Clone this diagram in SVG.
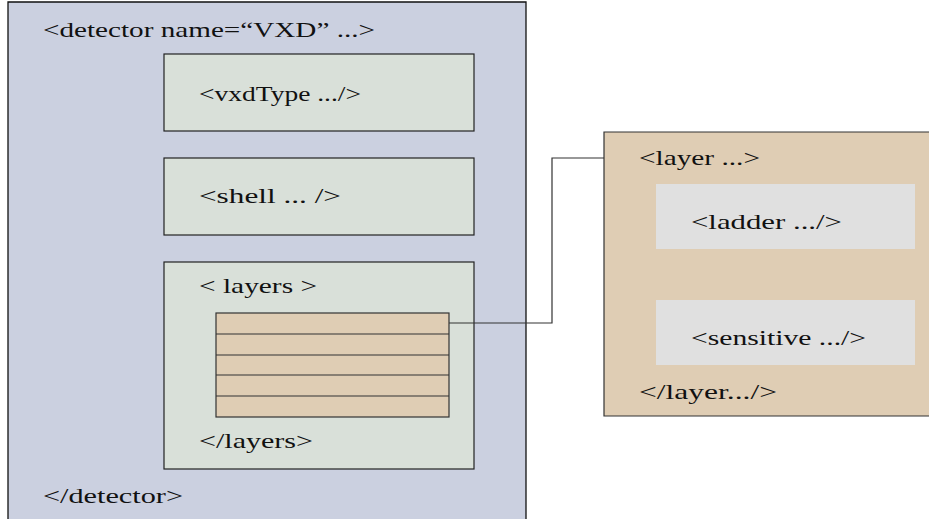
<svg xmlns="http://www.w3.org/2000/svg" width="929" height="519" viewBox="0 0 929 519">
  <style>
    text { font-family: "Liberation Serif", "DejaVu Serif", serif; font-size: 22px; fill: #111; }
    .detector { fill: #cbd0e0; stroke: #111; stroke-width: 1.3; }
    .child { fill: #d9e0d9; stroke: #222; stroke-width: 1.2; }
    .tan { fill: #dfcdb4; stroke: #333; stroke-width: 1.2; }
    .part { fill: #e0e0e0; stroke: none; }
    .wire { fill: none; stroke: #333; stroke-width: 1.2; }
  </style>

  <!-- detector container, open at the bottom edge -->
  <g id="detector">
    <path class="detector" d="M8,525 V2 H526 V525"/>
    <text x="43" y="37" textLength="332" lengthAdjust="spacingAndGlyphs">&lt;detector name=“VXD” ...&gt;</text>
    <text x="43" y="503" textLength="140" lengthAdjust="spacingAndGlyphs">&lt;/detector&gt;</text>
  </g>

  <g id="vxdType">
    <rect class="child" x="164" y="54" width="310" height="77"/>
    <text x="199" y="101" textLength="162" lengthAdjust="spacingAndGlyphs">&lt;vxdType .../&gt;</text>
  </g>

  <g id="shell">
    <rect class="child" x="164" y="158" width="310" height="77"/>
    <text x="199" y="203" textLength="142" lengthAdjust="spacingAndGlyphs">&lt;shell ... /&gt;</text>
  </g>

  <g id="layers">
    <rect class="child" x="164" y="262" width="310" height="207"/>
    <text x="199" y="293" textLength="118" lengthAdjust="spacingAndGlyphs">&lt; layers &gt;</text>
    <text x="199" y="448" textLength="114" lengthAdjust="spacingAndGlyphs">&lt;/layers&gt;</text>
    <!-- stack of layer slots -->
    <rect class="tan" x="216" y="313" width="233" height="104"/>
    <path class="wire" d="M216,334 H449 M216,355 H449 M216,375 H449 M216,396 H449"/>
  </g>

  <g id="layer">
    <path class="tan" d="M604,132 H935 V416 H604 Z"/>
    <text x="639" y="165" textLength="121" lengthAdjust="spacingAndGlyphs">&lt;layer ...&gt;</text>
    <text x="639" y="399" textLength="138" lengthAdjust="spacingAndGlyphs">&lt;/layer.../&gt;</text>
  </g>

  <g id="ladder">
    <rect class="part" x="656" y="184" width="259" height="65"/>
    <text x="691" y="229" textLength="151" lengthAdjust="spacingAndGlyphs">&lt;ladder .../&gt;</text>
  </g>

  <g id="sensitive">
    <rect class="part" x="656" y="300" width="259" height="65"/>
    <text x="691" y="345" textLength="175" lengthAdjust="spacingAndGlyphs">&lt;sensitive .../&gt;</text>
  </g>

  <g id="connectors">
    <path class="wire" d="M449,323 H552 V158 H604"/>
  </g>
</svg>
